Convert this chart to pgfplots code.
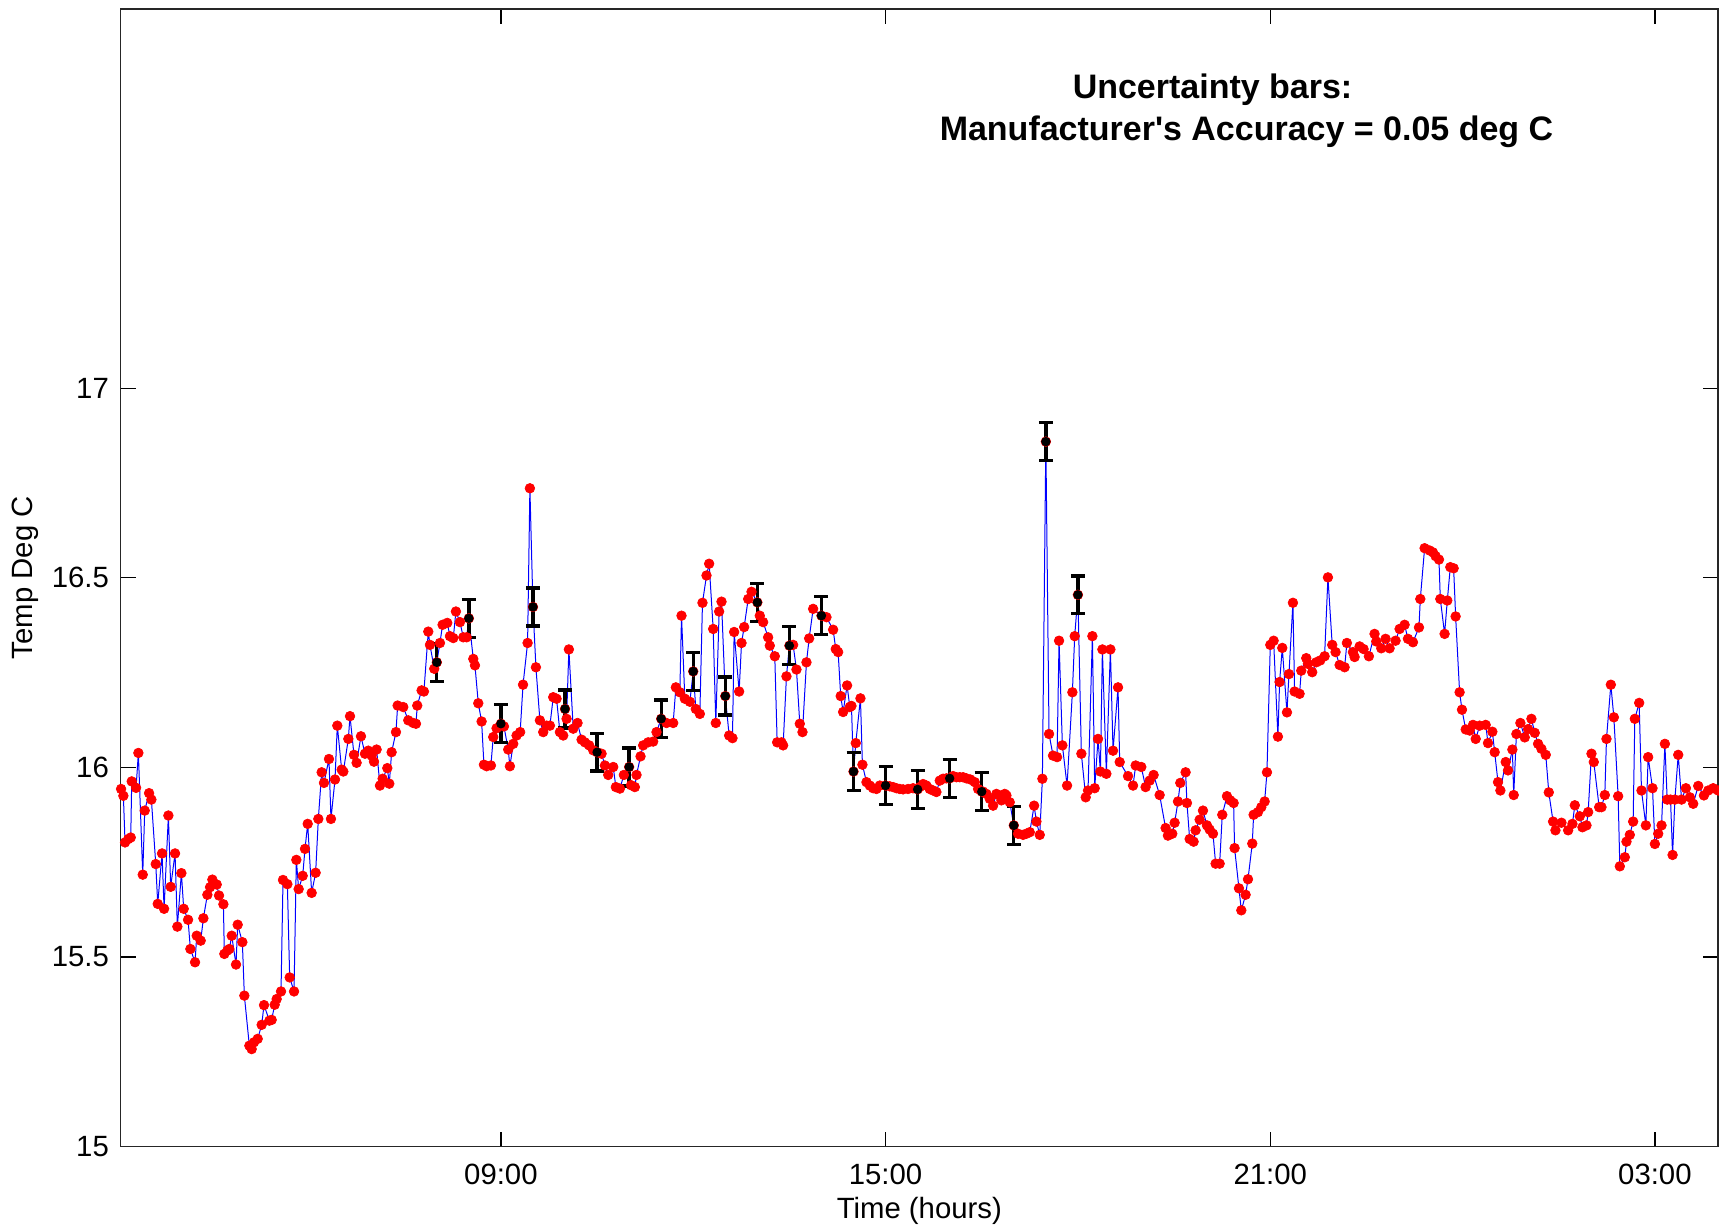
\documentclass[border=0pt]{standalone}
\usepackage{fontspec}
\setmainfont{Liberation Sans}
\usepackage{pgfplots}
\pgfplotsset{compat=1.18}
\usepackage{pgfplotstable}

\pgfplotstableread{
hr T
3.075 15.943
3.111 15.925
3.137 15.802
3.189 15.811
3.226 15.815
3.241 15.963
3.309 15.946
3.345 16.038
3.413 15.717
3.444 15.886
3.512 15.932
3.548 15.915
3.616 15.745
3.647 15.640
3.714 15.773
3.746 15.627
3.813 15.873
3.849 15.685
3.917 15.773
3.953 15.580
4.016 15.721
4.052 15.627
4.120 15.598
4.156 15.521
4.229 15.486
4.255 15.556
4.317 15.543
4.359 15.602
4.421 15.664
4.463 15.684
4.499 15.704
4.567 15.691
4.603 15.662
4.671 15.639
4.686 15.508
4.733 15.517
4.764 15.521
4.801 15.556
4.868 15.480
4.894 15.585
4.967 15.539
4.998 15.398
5.076 15.266
5.112 15.257
5.149 15.275
5.206 15.284
5.268 15.321
5.305 15.373
5.388 15.332
5.424 15.334
5.471 15.374
5.502 15.389
5.570 15.409
5.601 15.703
5.669 15.692
5.705 15.446
5.773 15.409
5.809 15.756
5.845 15.679
5.908 15.714
5.944 15.785
5.986 15.851
6.048 15.669
6.110 15.722
6.152 15.864
6.204 15.987
6.240 15.959
6.318 16.022
6.349 15.864
6.412 15.968
6.448 16.110
6.516 15.994
6.542 15.989
6.620 16.075
6.646 16.135
6.708 16.033
6.749 16.012
6.817 16.082
6.879 16.036
6.931 16.044
6.983 16.031
7.020 16.015
7.061 16.047
7.113 15.952
7.155 15.970
7.228 15.998
7.259 15.957
7.295 16.040
7.363 16.093
7.389 16.163
7.477 16.159
7.555 16.124
7.633 16.117
7.675 16.115
7.695 16.163
7.763 16.203
7.799 16.200
7.867 16.358
7.893 16.323
7.960 16.260
8.000 16.277
8.049 16.328
8.090 16.376
8.163 16.381
8.205 16.346
8.257 16.341
8.298 16.411
8.361 16.383
8.413 16.343
8.465 16.343
8.500 16.393
8.569 16.286
8.595 16.269
8.647 16.169
8.699 16.121
8.735 16.007
8.777 16.003
8.844 16.005
8.880 16.080
8.932 16.103
9.000 16.115
9.047 16.108
9.114 16.047
9.140 16.003
9.192 16.062
9.244 16.084
9.300 16.093
9.345 16.218
9.416 16.328
9.452 16.736
9.500 16.423
9.546 16.264
9.608 16.124
9.660 16.093
9.712 16.110
9.764 16.110
9.816 16.185
9.868 16.181
9.920 16.093
9.972 16.084
10.000 16.154
10.024 16.128
10.060 16.311
10.128 16.102
10.195 16.117
10.258 16.073
10.310 16.066
10.377 16.058
10.440 16.045
10.500 16.040
10.570 16.036
10.622 16.005
10.674 15.980
10.752 16.001
10.793 15.948
10.856 15.944
10.918 15.980
11.000 16.001
11.030 15.953
11.089 15.948
11.115 15.980
11.178 16.029
11.219 16.058
11.297 16.066
11.375 16.068
11.427 16.093
11.500 16.128
11.583 16.117
11.687 16.117
11.729 16.211
11.791 16.198
11.817 16.400
11.869 16.181
11.947 16.173
12.000 16.253
12.040 16.154
12.103 16.141
12.144 16.434
12.207 16.506
12.248 16.537
12.311 16.365
12.352 16.117
12.404 16.411
12.441 16.437
12.500 16.188
12.560 16.084
12.612 16.077
12.638 16.357
12.716 16.200
12.753 16.328
12.794 16.370
12.857 16.444
12.909 16.463
13.000 16.435
13.038 16.400
13.090 16.383
13.168 16.343
13.194 16.321
13.272 16.293
13.309 16.066
13.376 16.066
13.402 16.058
13.454 16.240
13.500 16.321
13.558 16.323
13.610 16.258
13.662 16.115
13.704 16.093
13.766 16.277
13.808 16.340
13.870 16.418
14.000 16.400
14.078 16.396
14.182 16.363
14.223 16.312
14.260 16.304
14.300 16.188
14.338 16.146
14.400 16.216
14.442 16.159
14.468 16.162
14.500 15.989
14.535 16.064
14.608 16.182
14.639 16.007
14.702 15.961
14.754 15.952
14.806 15.945
14.858 15.943
14.910 15.952
15.000 15.952
15.065 15.950
15.117 15.948
15.169 15.945
15.221 15.943
15.273 15.942
15.351 15.943
15.429 15.945
15.500 15.942
15.533 15.948
15.585 15.956
15.637 15.952
15.689 15.943
15.741 15.939
15.793 15.935
15.845 15.965
15.897 15.970
15.949 15.971
16.000 15.971
16.053 15.977
16.105 15.974
16.157 15.974
16.209 15.974
16.261 15.971
16.323 15.968
16.391 15.961
16.443 15.943
16.500 15.936
16.521 15.936
16.573 15.930
16.625 15.917
16.677 15.899
16.729 15.930
16.781 15.926
16.807 15.913
16.859 15.930
16.885 15.926
16.937 15.908
17.000 15.847
17.067 15.825
17.145 15.822
17.197 15.825
17.249 15.829
17.317 15.899
17.353 15.857
17.405 15.822
17.446 15.970
17.500 16.859
17.550 16.088
17.612 16.031
17.675 16.027
17.706 16.334
17.758 16.058
17.831 15.952
17.914 16.198
17.950 16.346
18.000 16.455
18.054 16.036
18.122 15.921
18.158 15.939
18.226 16.346
18.262 15.945
18.314 16.075
18.351 15.989
18.382 16.311
18.444 15.983
18.507 16.311
18.548 16.044
18.626 16.211
18.652 16.014
18.782 15.977
18.860 15.952
18.901 16.005
18.989 16.001
19.056 15.948
19.119 15.965
19.181 15.980
19.275 15.927
19.368 15.840
19.404 15.820
19.472 15.825
19.509 15.854
19.561 15.910
19.597 15.959
19.680 15.987
19.701 15.906
19.743 15.811
19.805 15.804
19.836 15.834
19.899 15.862
19.951 15.886
20.013 15.847
20.055 15.836
20.107 15.825
20.148 15.746
20.211 15.746
20.252 15.875
20.325 15.924
20.377 15.913
20.429 15.906
20.444 15.787
20.512 15.681
20.549 15.623
20.616 15.664
20.653 15.705
20.720 15.799
20.741 15.875
20.809 15.882
20.861 15.895
20.913 15.910
20.949 15.987
21.001 16.323
21.053 16.334
21.120 16.081
21.146 16.225
21.188 16.315
21.261 16.145
21.292 16.246
21.354 16.434
21.380 16.200
21.458 16.194
21.484 16.255
21.562 16.288
21.588 16.273
21.655 16.251
21.717 16.277
21.780 16.282
21.848 16.293
21.900 16.501
21.967 16.323
22.019 16.304
22.082 16.270
22.160 16.264
22.196 16.328
22.290 16.304
22.316 16.291
22.394 16.319
22.456 16.312
22.539 16.293
22.627 16.352
22.654 16.332
22.732 16.314
22.799 16.339
22.862 16.314
22.955 16.334
23.018 16.365
23.096 16.376
23.148 16.339
23.226 16.330
23.320 16.369
23.341 16.444
23.408 16.578
23.486 16.572
23.538 16.567
23.580 16.557
23.632 16.548
23.653 16.444
23.720 16.352
23.762 16.440
23.809 16.528
23.861 16.525
23.892 16.398
23.954 16.198
23.991 16.152
24.049 16.100
24.111 16.097
24.163 16.112
24.205 16.075
24.267 16.110
24.361 16.112
24.397 16.064
24.465 16.094
24.501 16.040
24.553 15.961
24.590 15.939
24.673 16.014
24.709 15.992
24.777 16.047
24.798 15.927
24.840 16.088
24.902 16.117
24.970 16.079
25.022 16.101
25.074 16.128
25.126 16.091
25.178 16.062
25.230 16.049
25.298 16.033
25.345 15.934
25.412 15.857
25.449 15.834
25.543 15.854
25.647 15.834
25.714 15.851
25.751 15.900
25.829 15.871
25.870 15.842
25.933 15.847
25.959 15.882
26.011 16.036
26.047 16.014
26.131 15.895
26.167 15.895
26.219 15.927
26.245 16.075
26.313 16.218
26.360 16.132
26.427 15.924
26.453 15.739
26.531 15.763
26.557 15.804
26.609 15.822
26.661 15.857
26.687 16.128
26.755 16.170
26.791 15.939
26.859 15.847
26.895 16.027
26.963 15.945
27.000 15.798
27.052 15.825
27.104 15.847
27.156 16.062
27.192 15.915
27.244 15.915
27.276 15.769
27.312 15.915
27.364 16.033
27.416 15.915
27.484 15.945
27.546 15.921
27.598 15.904
27.676 15.951
27.765 15.926
27.832 15.939
27.910 15.945
27.988 15.939
}\tempdata

\pgfplotstableread{
hr T
8.0 16.277
8.5 16.393
9.0 16.115
9.5 16.423
10.0 16.154
10.5 16.040
11.0 16.001
11.5 16.128
12.0 16.253
12.5 16.188
13.0 16.435
13.5 16.321
14.0 16.400
14.5 15.989
15.0 15.952
15.5 15.942
16.0 15.971
16.5 15.936
17.0 15.847
17.5 16.859
18.0 16.455
}\bardata

\begin{document}
\begin{tikzpicture}
\begin{axis}[
  scale only axis,
  width=479.4pt, height=341.4pt,
  xmin=3.068, xmax=27.985, ymin=15, ymax=18,
  xtick={9,15,21,27}, xticklabels={09:00,15:00,21:00,03:00},
  ytick={15,15.5,16,16.5,17}, yticklabels={15,15.5,16,16.5,17},
  minor tick num=0,
  tick align=inside,
  major tick length=4.5pt,
  tick style={black, line width=0.4pt},
  axis line style={black!85, line width=0.5pt},
  /pgf/number format/assume math mode=true,
  tick label style={font=\fontsize{8.8}{10}\selectfont},
  xticklabel style={yshift=-1.6pt},
  label style={font=\fontsize{8.8}{10}\selectfont},
  xlabel={Time (hours)},
  ylabel={Temp Deg C},
  xlabel style={at={([yshift=-21.6pt]rel axis cs:0.5,0)}, anchor=base},
  ylabel style={at={([xshift=-26.3pt]rel axis cs:0,0.5)}, anchor=base},
  clip=false,
]
\addplot[color={rgb,255:red,0;green,0;blue,255}, line width=0.3pt,
  mark=*, mark size=1.45pt,
  mark options={draw=red, fill=red, line width=0.2pt}]
  table[x=hr, y=T] {\tempdata};
\addplot[black, only marks, mark=*, mark size=1.2pt,
  mark options={draw=black, fill=black},
  error bars/y dir=both, error bars/y fixed=0.05,
  error bars/error mark=-,
  error bars/error bar style={line width=1pt, black},
  error bars/error mark options={black, line width=1pt, mark size=2.1pt, rotate=90}]
  table[x=hr, y=T] {\bardata};
\node[anchor=base, font=\fontsize{10.2}{12}\selectfont\bfseries] at (axis cs:20.10,17.764) {Uncertainty bars:};
\node[anchor=base, font=\fontsize{10.2}{12}\selectfont\bfseries] at (axis cs:20.63,17.654) {Manufacturer\textquotesingle s Accuracy = 0.05 deg C};
\end{axis}
\pgfresetboundingbox
\path ([shift={(-36.2pt,-24.3pt)}]current axis.south west) rectangle ([shift={(0.3pt,2.7pt)}]current axis.north east);
\end{tikzpicture}
\end{document}
